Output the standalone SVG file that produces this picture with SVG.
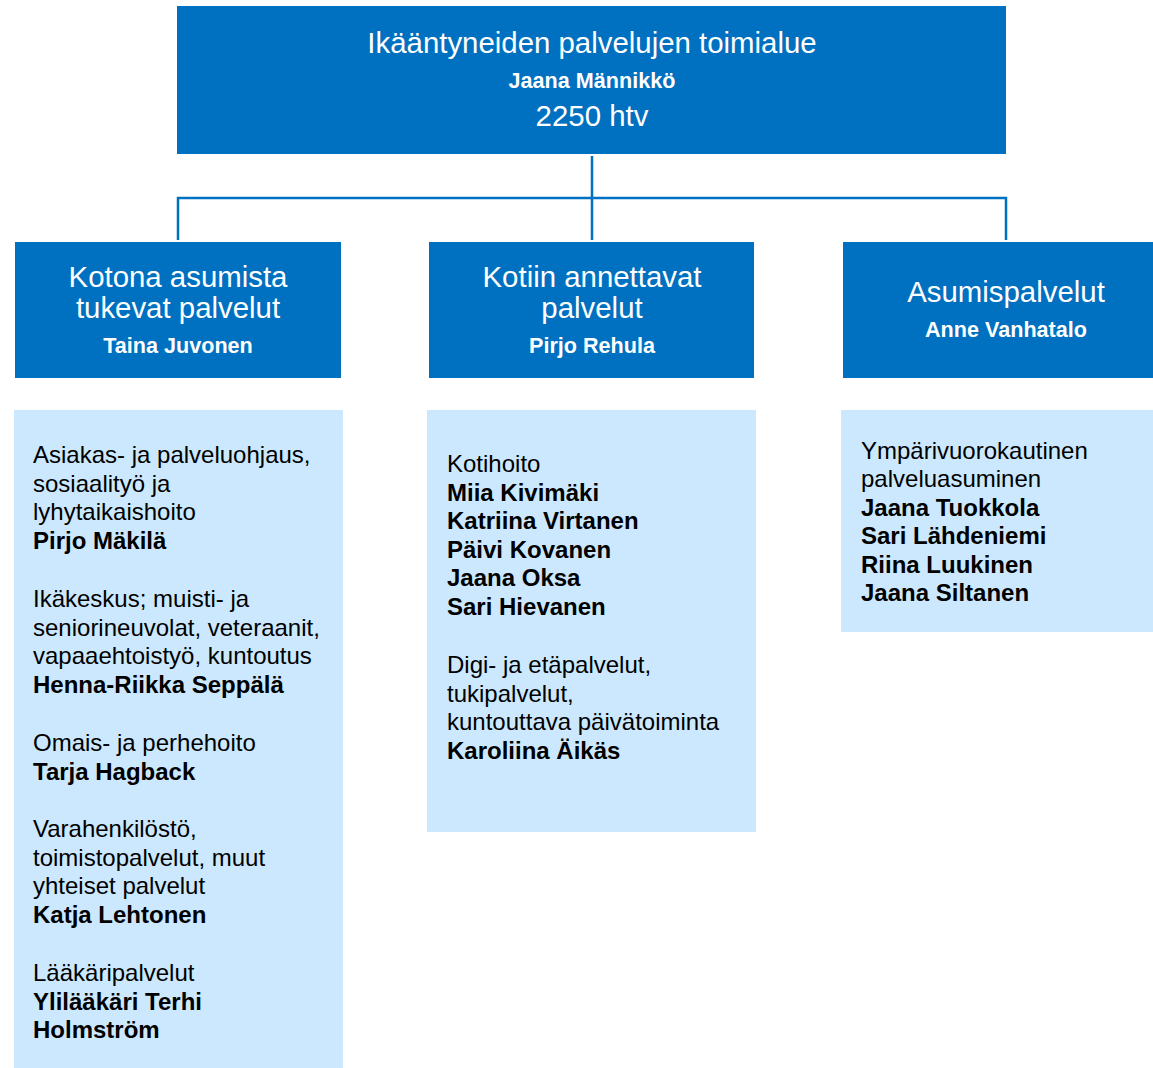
<svg xmlns="http://www.w3.org/2000/svg" width="1153" height="1068" viewBox="0 0 1153 1068">
<style>
.dark{fill:#0070C0}
.light{fill:#CCE8FF}
.w{fill:#FFFFFF;font-family:"Liberation Sans",Arial,sans-serif;text-anchor:middle}
.t29{font-size:29.4px}
.b21{font-size:21.6px;font-weight:bold}
.k{fill:#000000;font-family:"Liberation Sans",Arial,sans-serif;font-size:24px}
.kb{font-weight:bold}
.conn{fill:none;stroke:#0070C0;stroke-width:2.5}
</style>
<rect width="1153" height="1068" fill="#FFFFFF"/>
<g id="connectors">
<path class="conn" d="M592 156 V198 M178 240 V198 H1006 V240 M592 198 V240"/>
</g>
<g id="top">
<rect class="dark" x="177" y="6" width="829" height="148"/>
<text class="w t29" x="592" y="53">Ikääntyneiden palvelujen toimialue</text>
<text class="w b21" x="592" y="88">Jaana Männikkö</text>
<text class="w t29" x="592" y="126">2250 htv</text>
</g>
<g id="kotona">
<rect class="dark" x="15" y="242" width="326" height="136"/>
<text class="w t29" x="178" y="287">Kotona asumista</text>
<text class="w t29" x="178" y="318">tukevat palvelut</text>
<text class="w b21" x="178" y="353">Taina Juvonen</text>
</g>
<g id="kotiin">
<rect class="dark" x="429" y="242" width="325" height="136"/>
<text class="w t29" x="592" y="287">Kotiin annettavat</text>
<text class="w t29" x="592" y="318">palvelut</text>
<text class="w b21" x="592" y="353">Pirjo Rehula</text>
</g>
<g id="asumis">
<rect class="dark" x="843" y="242" width="310" height="136"/>
<text class="w t29" x="1006" y="302">Asumispalvelut</text>
<text class="w b21" x="1006" y="337">Anne Vanhatalo</text>
</g>
<g id="kotona-list">
<rect class="light" x="14" y="410" width="329" height="658"/>
<text class="k" x="33" y="463">Asiakas- ja palveluohjaus,</text>
<text class="k" x="33" y="491.5">sosiaalityö ja</text>
<text class="k" x="33" y="520">lyhytaikaishoito</text>
<text class="k kb" x="33" y="548.5">Pirjo Mäkilä</text>
<text class="k" x="33" y="607">Ikäkeskus; muisti- ja</text>
<text class="k" x="33" y="635.5">seniorineuvolat, veteraanit,</text>
<text class="k" x="33" y="664">vapaaehtoistyö, kuntoutus</text>
<text class="k kb" x="33" y="692.5">Henna-Riikka Seppälä</text>
<text class="k" x="33" y="751">Omais- ja perhehoito</text>
<text class="k kb" x="33" y="779.5">Tarja Hagback</text>
<text class="k" x="33" y="837">Varahenkilöstö,</text>
<text class="k" x="33" y="865.5">toimistopalvelut, muut</text>
<text class="k" x="33" y="894">yhteiset palvelut</text>
<text class="k kb" x="33" y="922.5">Katja Lehtonen</text>
<text class="k" x="33" y="981">Lääkäripalvelut</text>
<text class="k kb" x="33" y="1009.5">Ylilääkäri Terhi</text>
<text class="k kb" x="33" y="1038">Holmström</text>
</g>
<g id="kotiin-list">
<rect class="light" x="427" y="410" width="329" height="422"/>
<text class="k" x="447" y="472">Kotihoito</text>
<text class="k kb" x="447" y="500.5">Miia Kivimäki</text>
<text class="k kb" x="447" y="529">Katriina Virtanen</text>
<text class="k kb" x="447" y="557.5">Päivi Kovanen</text>
<text class="k kb" x="447" y="586">Jaana Oksa</text>
<text class="k kb" x="447" y="614.5">Sari Hievanen</text>
<text class="k" x="447" y="673">Digi- ja etäpalvelut,</text>
<text class="k" x="447" y="701.5">tukipalvelut,</text>
<text class="k" x="447" y="730">kuntouttava päivätoiminta</text>
<text class="k kb" x="447" y="758.5">Karoliina Äikäs</text>
</g>
<g id="asumis-list">
<rect class="light" x="841" y="410" width="312" height="222"/>
<text class="k" x="861" y="458.5">Ympärivuorokautinen</text>
<text class="k" x="861" y="487">palveluasuminen</text>
<text class="k kb" x="861" y="515.5">Jaana Tuokkola</text>
<text class="k kb" x="861" y="544">Sari Lähdeniemi</text>
<text class="k kb" x="861" y="572.5">Riina Luukinen</text>
<text class="k kb" x="861" y="601">Jaana Siltanen</text>
</g>
</svg>
